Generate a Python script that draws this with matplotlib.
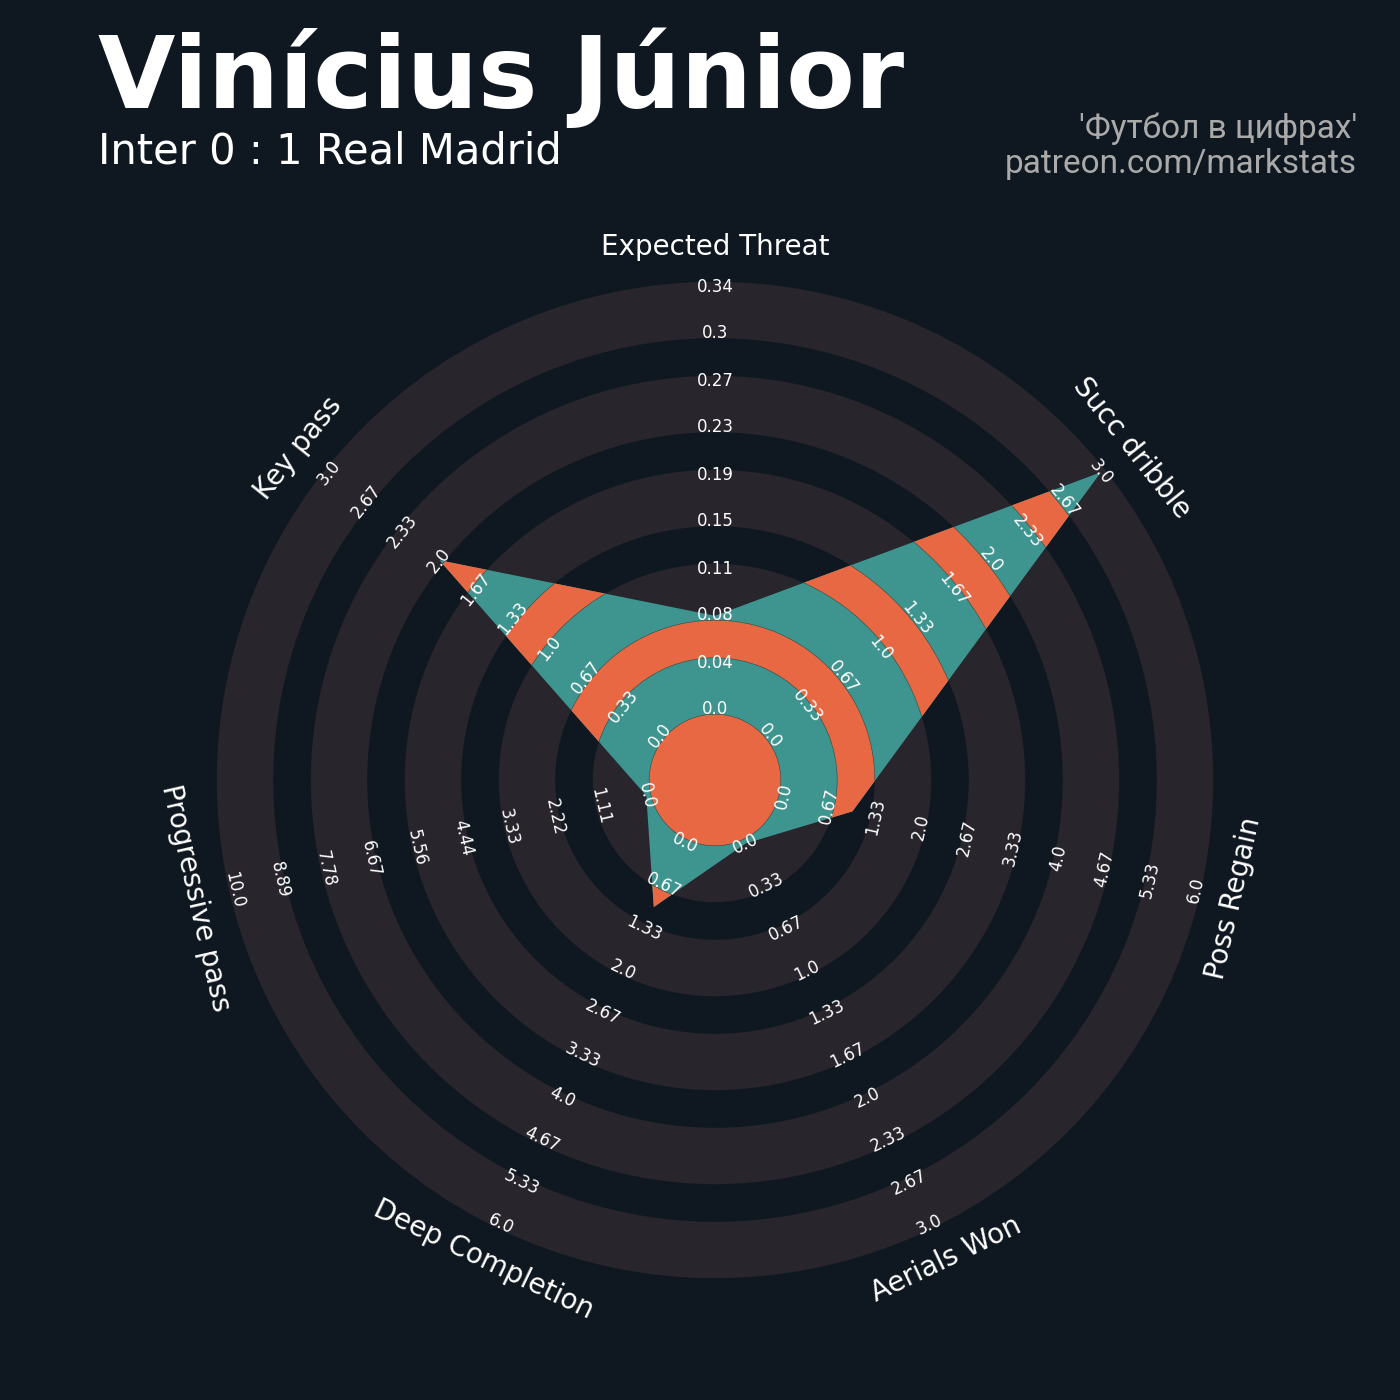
import numpy as np
import matplotlib
matplotlib.use("Agg")
import matplotlib.pyplot as plt
from matplotlib.patches import Wedge, Polygon

# ---- data ----
params = ["Expected Threat", "Succ dribble", "Poss Regain", "Aerials Won",
          "Deep Completion", "Progressive pass", "Key pass"]
min_range = [0.0, 0.0, 0.0, 0.0, 0.0, 0.0, 0.0]
max_range = [0.343, 3.0, 6.0, 3.0, 6.0, 10.0, 3.0]
values = [0.076, 3.0, 1.0, 0.0, 1.0, 0.0, 2.0]

title = "Vinícius Júnior"
subtitle = "Inter 0 : 1 Real Madrid"
credit = "'Футбол в цифрах'\npatreon.com/markstats"

# ---- style ----
BG = "#0f1820"
RING = "#28252c"
TEAL = "#3e958f"
ORANGE = "#e76842"

N_LABELS = 10
R0 = 1.5          # radius of min value
R_LAB = 11.33     # radius of parameter labels
grey_bands = [(1.4, 2.6), (3.4, 4.6), (5.4, 6.6), (7.4, 8.6), (9.4, 10.6)]
orange_bands = [(0.0, 1.4), (2.6, 3.4), (4.6, 5.4), (6.6, 7.4), (8.6, 9.4)]

fig = plt.figure(figsize=(14, 14), dpi=100, facecolor=BG)
half = 12.5
ax = fig.add_axes([127.5 / 1400, 32.5 / 1400, 1175 / 1400, 1175 / 1400])
ax.set_xlim(-half, half)
ax.set_ylim(-half, half)
ax.set_aspect("equal")
ax.axis("off")
ax.set_facecolor(BG)

# background rings
for r_in, r_out in grey_bands:
    ax.add_patch(Wedge((0, 0), r_out, 0, 360, width=r_out - r_in,
                       facecolor=RING, edgecolor="none", zorder=1))

n = len(params)
angles = np.deg2rad(90 - np.arange(n) * 360 / n)

# radar polygon
radii = [R0 + (v - lo) / (hi - lo) * (N_LABELS - 1)
         for v, lo, hi in zip(values, min_range, max_range)]
verts = np.column_stack([np.array(radii) * np.cos(angles),
                         np.array(radii) * np.sin(angles)])
poly = Polygon(verts, closed=True, facecolor=TEAL, edgecolor="none", zorder=2)
ax.add_patch(poly)
for r_in, r_out in orange_bands:
    w = Wedge((0, 0), r_out, 0, 360, width=(r_out - r_in) if r_in > 0 else None,
              facecolor=ORANGE, edgecolor="#2a4a48", linewidth=0.4, zorder=3)
    ax.add_patch(w)
    if r_in > 0:
        w.set_clip_path(poly)

# range labels and parameter names
for i in range(n):
    theta = np.rad2deg(angles[i])
    rot = (theta % 180) - 90
    lo, hi = min_range[i], max_range[i]
    for j in range(N_LABELS):
        val = lo + j * (hi - lo) / (N_LABELS - 1)
        r = R0 + j
        ax.text(r * np.cos(angles[i]), r * np.sin(angles[i]), str(round(val, 2)),
                ha="center", va="center", rotation=rot, rotation_mode="anchor",
                fontsize=12, color="white", family="DejaVu Sans", zorder=5)
    ax.text(R_LAB * np.cos(angles[i]), R_LAB * np.sin(angles[i]), params[i],
            ha="center", va="center", rotation=rot, rotation_mode="anchor",
            fontsize=20, color="white", family="DejaVu Sans", zorder=5)

# titles
fig.text(98 / 1400, 1 - 108 / 1400, title, fontsize=72, fontweight="bold",
         color="white", family="DejaVu Sans", ha="left", va="baseline")
fig.text(98 / 1400, 1 - 164 / 1400, subtitle, fontsize=30,
         color="white", family="DejaVu Sans", ha="left", va="baseline")
fig.text(1357 / 1400, 1 - 173 / 1400, credit, fontsize=24, color="#aaaaaa",
         family="Roboto", ha="right", va="baseline", multialignment="right",
         linespacing=1.12)

fig.savefig("out.png", dpi=100, facecolor=BG)
